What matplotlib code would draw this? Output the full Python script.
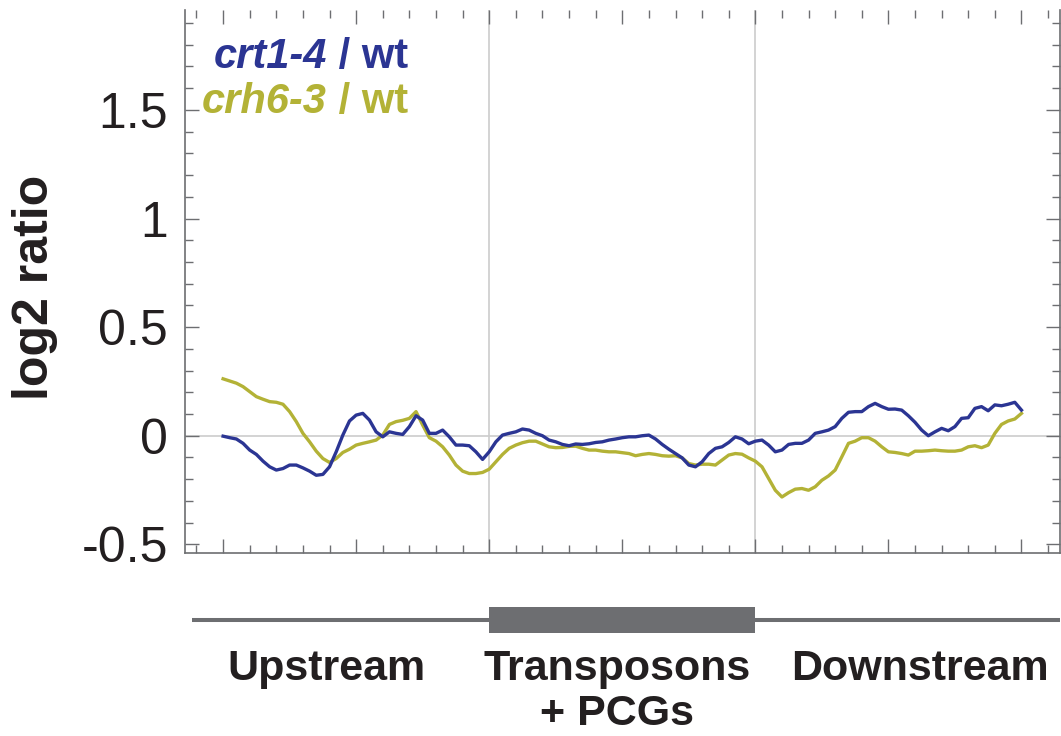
import numpy as np
import matplotlib
matplotlib.use('Agg')
import matplotlib.pyplot as plt
from matplotlib.patches import Rectangle
from matplotlib.ticker import MultipleLocator

plt.rcParams['font.family'] = ['Liberation Sans', 'DejaVu Sans']

# metagene profile: 10 bins upstream, 10 bins body, 10 bins downstream
pos = np.arange(0, 30.01, 0.25)

crt1_4 = [-0.002, -0.009, -0.015, -0.035, -0.066, -0.086, -0.117, -0.143, -0.158, -0.151,
          -0.135, -0.135, -0.148, -0.163, -0.182, -0.178, -0.143, -0.074, 0.003, 0.068, 0.095,
          0.103, 0.072, 0.018, -0.005, 0.018, 0.011, 0.006, 0.042, 0.092, 0.072,
          0.011, 0.011, 0.026, -0.005, -0.043, -0.043, -0.046, -0.074, -0.109, -0.074,
          -0.028, 0.003, 0.011, 0.018, 0.031, 0.026, 0.011, 0.0, -0.02, -0.028,
          -0.04, -0.046, -0.038, -0.04, -0.037, -0.031, -0.028, -0.02, -0.015, -0.009,
          -0.005, -0.005, 0.0, 0.003, -0.015, -0.04, -0.062, -0.082, -0.102, -0.135,
          -0.143, -0.12, -0.082, -0.058, -0.051, -0.031, -0.005, -0.015, -0.037, -0.025,
          -0.02, -0.043, -0.074, -0.066, -0.04, -0.035, -0.035, -0.02, 0.011, 0.018,
          0.026, 0.042, 0.08, 0.108, 0.111, 0.111, 0.134, 0.149, 0.134, 0.122,
          0.123, 0.118, 0.092, 0.062, 0.026, 0.0, 0.018, 0.034, 0.023, 0.042,
          0.08, 0.083, 0.126, 0.134, 0.115, 0.142, 0.138, 0.145, 0.154, 0.118]

crh6_3 = [0.262, 0.252, 0.242, 0.226, 0.203, 0.180, 0.168, 0.157, 0.154, 0.145,
          0.111, 0.065, 0.011, -0.028, -0.071, -0.105, -0.123, -0.105, -0.077, -0.062, -0.043,
          -0.035, -0.028, -0.02, 0.003, 0.052, 0.065, 0.071, 0.08, 0.111, 0.049,
          -0.009, -0.025, -0.051, -0.089, -0.135, -0.163, -0.174, -0.174, -0.169, -0.154,
          -0.12, -0.086, -0.058, -0.043, -0.032, -0.025, -0.025, -0.038, -0.051, -0.055,
          -0.054, -0.049, -0.048, -0.058, -0.066, -0.066, -0.071, -0.074, -0.074, -0.078,
          -0.082, -0.092, -0.086, -0.082, -0.086, -0.092, -0.094, -0.092, -0.102, -0.128,
          -0.135, -0.131, -0.131, -0.135, -0.112, -0.089, -0.082, -0.085, -0.102, -0.117,
          -0.143, -0.197, -0.251, -0.282, -0.262, -0.246, -0.243, -0.251, -0.235, -0.205,
          -0.185, -0.158, -0.097, -0.035, -0.025, -0.009, -0.009, -0.025, -0.051, -0.074,
          -0.077, -0.082, -0.089, -0.071, -0.071, -0.069, -0.066, -0.069, -0.071, -0.071,
          -0.066, -0.051, -0.046, -0.055, -0.043, 0.011, 0.052, 0.068, 0.077, 0.103]

body_start, body_end = 10, 20
regions = ['Upstream', 'Transposons\n+ PCGs', 'Downstream']
region_x = [3.9, 14.8, 26.2]

blue = '#2b3593'
olive = '#b3b236'
frame = '#6d6e71'
ink = '#231f20'

fig = plt.figure(figsize=(10.61, 7.36), dpi=100)
ax = fig.add_axes([0.1739, 0.2486, 0.8252, 0.7378])

ax.axhline(0, color='#cccccc', lw=1.2, zorder=1)
ax.axvline(body_start, color='#cccccc', lw=1.2, zorder=1)
ax.axvline(body_end, color='#cccccc', lw=1.2, zorder=1)

ax.plot(pos, crh6_3, color=olive, lw=2.4, zorder=3)
ax.plot(pos, crt1_4, color=blue, lw=2.4, zorder=4)

ax.set_xlim(-1.45, 31.45)
ax.set_ylim(-0.54, 1.96)

ax.xaxis.set_major_locator(MultipleLocator(5))
ax.xaxis.set_minor_locator(MultipleLocator(1))
ax.yaxis.set_minor_locator(MultipleLocator(0.1))
ax.set_yticks([-0.5, 0, 0.5, 1, 1.5])
ax.set_yticklabels(['-0.5', '0', '0.5', '1', '1.5'])

ax.tick_params(which='both', direction='in', color=frame, width=1.0,
               top=True, right=True, labelsize=36, labelcolor=ink, pad=12)
ax.tick_params(which='major', length=10)
ax.tick_params(which='minor', length=6)
ax.tick_params(axis='x', labelbottom=False)

for side in ['left', 'right', 'bottom']:
    ax.spines[side].set_color(frame)
    ax.spines[side].set_linewidth(1.2)
ax.spines['top'].set_visible(False)

fig.text(35 / 1061, 1 - 287 / 736, 'log2 ratio', rotation=90, ha='center', va='center',
         fontsize=36, fontweight='bold', color=ink)

# legend as coloured text, gene names in italics
t1 = ax.text(0.255, 0.893, ' / wt', transform=ax.transAxes, color=blue,
             fontsize=30, fontweight='bold', ha='right', va='baseline')
ax.annotate('crt1-4', xy=(0, 0), xycoords=t1, ha='right', va='bottom',
            color=blue, fontsize=30, fontweight='bold', fontstyle='italic')
t2 = ax.text(0.255, 0.810, ' / wt', transform=ax.transAxes, color=olive,
             fontsize=30, fontweight='bold', ha='right', va='baseline')
ax.annotate('crh6-3', xy=(0, 0), xycoords=t2, ha='right', va='bottom',
            color=olive, fontsize=30, fontweight='bold', fontstyle='italic')

# gene model below the plot
gm = fig.add_axes([0.1739, 0.0, 0.8252, 0.1984], sharex=ax)
gm.set_ylim(0, 1)
gm.axis('off')
gm.plot([-1.15, body_start], [0.795, 0.795], color=frame, lw=2.9, solid_capstyle='butt')
gm.plot([body_end, 31.45], [0.795, 0.795], color=frame, lw=2.9, solid_capstyle='butt')
gm.add_patch(Rectangle((body_start, 0.705), body_end - body_start, 0.18,
                       facecolor=frame, edgecolor='none'))
for name, xc in zip(regions, region_x):
    for i, line in enumerate(name.split('\n')):
        gm.text(xc, 0.384 - i * 0.31, line, ha='center', va='baseline',
                fontsize=31, fontweight='bold', color=ink)

fig.savefig('out.png', dpi=100)
